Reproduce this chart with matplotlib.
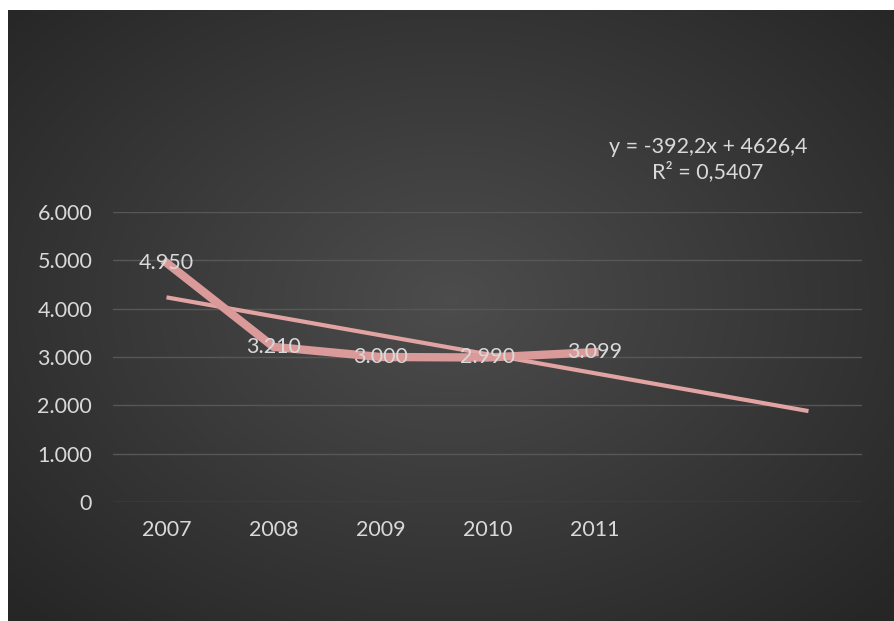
import numpy as np
import matplotlib.pyplot as plt

years = ['2007', '2008', '2009', '2010', '2011']
values = [4950, 3210, 3000, 2990, 3099]
value_labels = ['4.950', '3.210', '3.000', '2.990', '3.099']
y_ticks = [0, 1000, 2000, 3000, 4000, 5000, 6000]
y_tick_labels = ['0', '1.000', '2.000', '3.000', '4.000', '5.000', '6.000']
forecast = 2  # trendline forward periods

W, H = 894, 621
fig = plt.figure(figsize=(W / 100, H / 100), dpi=100)
fig.patch.set_facecolor('white')

# dark radial gradient background
bg = fig.add_axes([8 / W, 0, 1 - 8 / W, (H - 10) / H])
gx, gy = np.meshgrid(np.linspace(-1, 1, 400), np.linspace(-1, 1, 300))
r = np.sqrt((gx * 0.95) ** 2 + ((gy + 0.05) * 0.9) ** 2)
shade = 0.30 - 0.15 * np.clip(r, 0, 1.3) / 1.3
shade = np.clip(shade, 0.15, 0.3)
img = np.dstack([shade, shade, shade])
bg.imshow(img, aspect='auto', extent=[0, 1, 0, 1], interpolation='bicubic')
bg.axis('off')

plt.rcParams['font.family'] = ['Lato', 'DejaVu Sans']
txt = '#d9d9d9'
fs = 15.5

ax = fig.add_axes([113 / W, (H - 502) / H, (862 - 113) / W, (502 - 212) / H])
ax.patch.set_alpha(0)

x = np.arange(len(values)) + 1
# linear trend (least squares), extended forward
k, b = np.polyfit(x, values, 1)
xt = np.array([1, len(values) + forecast])
ax.plot(xt - 1, k * xt + b, color='#e2a3a3', lw=3, solid_capstyle='butt', zorder=2)
ax.plot(x - 1, values, color='#db9a9a', lw=6, solid_joinstyle='round', zorder=3)

for xi, v, lab in zip(x - 1, values, value_labels):
    ax.text(xi, v, lab, color=txt, fontsize=fs, ha='center', va='center', zorder=4)

ax.set_xlim(-0.5, len(values) + forecast - 0.5)
ax.set_ylim(0, 6000)
ax.set_xticks(range(len(years)))
ax.set_xticklabels(years)
ax.set_yticks(y_ticks)
ax.set_yticklabels(y_tick_labels)
ax.tick_params(axis='both', length=0, colors=txt, labelsize=fs)
ax.tick_params(axis='y', pad=15)
ax.tick_params(axis='x', pad=13)
ax.grid(axis='y', color='#575757', lw=1)
ax.set_axisbelow(True)
for s in ax.spines.values():
    s.set_visible(False)

fig.text(708 / W, 1 - 147 / H, 'y = -392,2x + 4626,4', color=txt, fontsize=fs,
         ha='center', va='center')
fig.text(708 / W, 1 - 172 / H, 'R² = 0,5407', color=txt, fontsize=fs,
         ha='center', va='center')

fig.savefig('out.png', dpi=100, facecolor='white')
